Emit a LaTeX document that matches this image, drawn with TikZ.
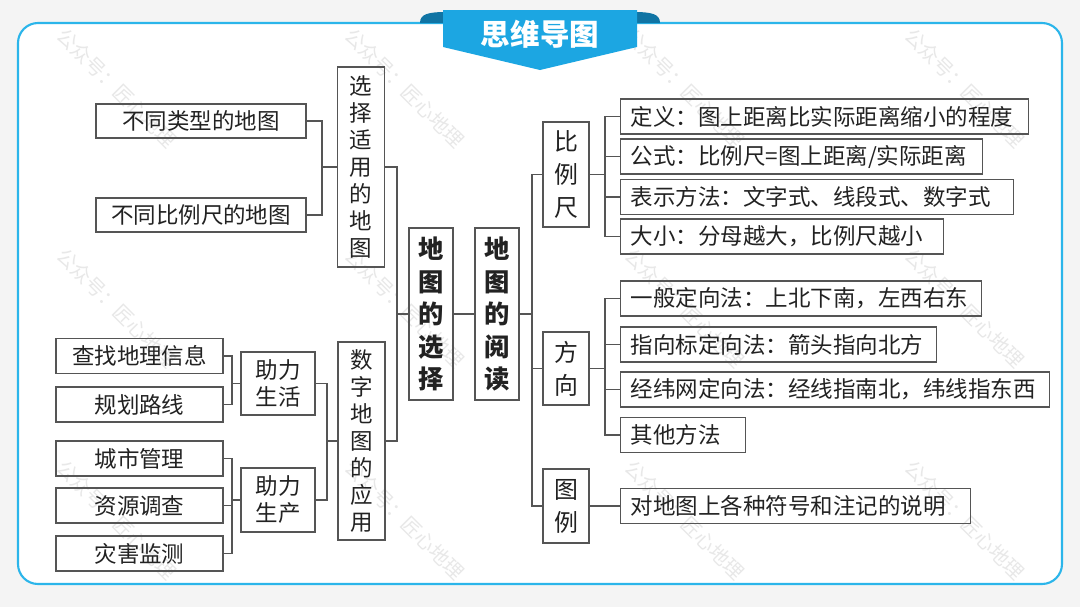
\documentclass[tikz,border=0pt]{standalone}
\usepackage{fontspec}
\newfontfamily\cjk{Noto Sans CJK SC}
\newcommand{\pxu}{0.025cm}

\definecolor{cBg}{RGB}{244,244,244}
\definecolor{cBorder}{RGB}{43,181,234}
\definecolor{cTitle}{RGB}{28,166,226}
\definecolor{cCap}{RGB}{16,116,164}
\definecolor{cLine}{RGB}{85,85,85}
\definecolor{cText}{RGB}{34,34,34}

\begin{document}
\begin{tikzpicture}[x=0.025cm,y=-0.025cm,
  box/.style={draw=cLine,line width=0.8pt,text=cText,inner sep=0pt,
    font=\cjk\fontsize{16}{19.2}\selectfont},
  cbox/.style={box,minimum width=167*\pxu,minimum height=35*\pxu},
  tbox/.style={box,anchor=west,align=left,inner xsep=0.25cm,minimum height=35*\pxu},
  vbox/.style={box,align=center,minimum width=47*\pxu},
  kbox/.style={box,align=center,minimum width=46*\pxu,
    font=\cjk\fontsize{17}{23.5}\selectfont},
  hbox/.style={box,align=center,line width=1pt,minimum width=44*\pxu,
    minimum height=172*\pxu,font=\cjk\bfseries\fontsize{18}{23.1}\selectfont},
  link/.style={draw=cLine,line width=0.8pt},
  wmark/.style={text=black!9,rotate=-45,font=\cjk\fontsize{14}{14}\selectfont}]

  % page and frame
  \fill[cBg] (0,0) rectangle (1080,607);
  \draw[cBorder,line width=1.5pt,fill=white,rounded corners=0.5cm]
    (18,23) rectangle (1062,584);

  % watermarks
  \foreach \wx in {117,405,685,965}
    \foreach \wy in {88,308,520}
      \node[wmark] at (\wx,\wy) {公众号：匠心地理};

  % title tab
  \fill[cCap] (420,23) .. controls (420,14) and (428,12) .. (447,12) -- (447,23) -- cycle;
  \fill[cCap] (660,23) .. controls (660,14) and (652,12) .. (633,12) -- (633,23) -- cycle;
  \fill[cTitle] (443,10) -- (637,10) -- (637,47) -- (540,70) -- (443,47) -- cycle;
  \node[white,font=\cjk\bfseries\fontsize{21}{21}\selectfont] (title) at (540,34) {思维导图};

  % --- left: map selection ---
  \node[box,minimum width=210*\pxu,minimum height=34*\pxu] (typ) at (201,121) {不同类型的地图};
  \node[box,minimum width=210*\pxu,minimum height=34*\pxu] (scl) at (201,215) {不同比例尺的地图};
  \node[vbox,minimum height=200*\pxu] (suit) at (361,167) {选\\择\\适\\用\\的\\地\\图};

  \node[cbox] (find) at (139.5,356) {查找地理信息};
  \node[cbox] (route) at (139.5,404.5) {规划路线};
  \node[cbox] (city) at (139.5,458.5) {城市管理};
  \node[cbox] (res) at (139.5,505.5) {资源调查};
  \node[cbox] (dis) at (139.5,553.5) {灾害监测};
  \node[box,align=center,minimum width=74*\pxu,minimum height=63*\pxu] (life) at (278,383.5) {助力\\生活};
  \node[box,align=center,minimum width=74*\pxu,minimum height=64*\pxu] (prod) at (278,500) {助力\\生产};
  \node[vbox,minimum height=198*\pxu] (digi) at (361.5,441) {数\\字\\地\\图\\的\\应\\用};

  % --- centre ---
  \node[hbox] (choose) at (431,314) {地\\图\\的\\选\\择};
  \node[hbox] (read) at (497,314) {地\\图\\的\\阅\\读};

  % --- right: map reading ---
  \node[kbox,minimum height=105*\pxu] (scale) at (566,174.5) {比\\例\\尺};
  \node[kbox,minimum height=73*\pxu] (dir) at (566,368.5) {方\\向};
  \node[kbox,minimum height=74*\pxu] (leg) at (566,506) {图\\例};

  \node[tbox,text width=9.7cm] (s1) at (620,116.5) {定义：图上距离比实际距离缩小的程度};
  \node[tbox,text width=8.55cm] (s2) at (620,156.5) {公式：比例尺=图上距离/实际距离};
  \node[tbox,text width=9.325cm] (s3) at (620,197) {表示方法：文字式、线段式、数字式};
  \node[tbox,text width=7.575cm] (s4) at (620,236.5) {大小：分母越大，比例尺越小};

  \node[tbox,text width=8.525cm] (d1) at (620,298.5) {一般定向法：上北下南，左西右东};
  \node[tbox,text width=7.4cm] (d2) at (620,344.5) {指向标定向法：箭头指向北方};
  \node[tbox,text width=10.225cm] (d3) at (620,389.5) {经纬网定向法：经线指南北，纬线指东西};
  \node[tbox,text width=2.625cm] (d4) at (620,435) {其他方法};

  \node[tbox,text width=8.25cm] (l1) at (620,506) {对地图上各种符号和注记的说明};

  % junctions
  \coordinate (jSuit) at (322,167);
  \coordinate (jLife) at (232,383.5);
  \coordinate (jProd) at (232,500);
  \coordinate (jDigi) at (327,441);
  \coordinate (jLeft) at (397,314);
  \coordinate (jRight) at (532,314);
  \coordinate (jScale) at (605,174.5);
  \coordinate (jDir) at (605,368.5);

  % connectors
  \draw[link] (typ.east) -| (jSuit) |- (scl.east);
  \draw[link] (jSuit) -- (suit.west);
  \draw[link] (find.east) -| (jLife) |- (route.east);
  \draw[link] (jLife) -- (life.west);
  \draw[link] (city.east) -| (jProd) |- (dis.east);
  \draw[link] (jProd) |- (res.east);
  \draw[link] (jProd) -- (prod.west);
  \draw[link] (life.east) -| (jDigi) |- (prod.east);
  \draw[link] (jDigi) -- (digi.west);
  \draw[link] (suit.east) -| (jLeft) |- (digi.east);
  \draw[link] (jLeft) -- (choose.west);
  \draw[link] (choose.east) -- (read.west);
  \draw[link] (read.east) -- (jRight);
  \draw[link] (scale.west) -| (jRight) |- (leg.west);
  \draw[link] (jRight) |- (dir.west);
  \draw[link] (s1.west) -| (jScale) |- (s4.west);
  \draw[link] (scale.east) -- (jScale);
  \draw[link] (jScale) |- (s2.west);
  \draw[link] (jScale) |- (s3.west);
  \draw[link] (d1.west) -| (jDir) |- (d4.west);
  \draw[link] (dir.east) -- (jDir);
  \draw[link] (jDir) |- (d2.west);
  \draw[link] (jDir) |- (d3.west);
  \draw[link] (leg.east) -- (l1.west);
\end{tikzpicture}
\end{document}
